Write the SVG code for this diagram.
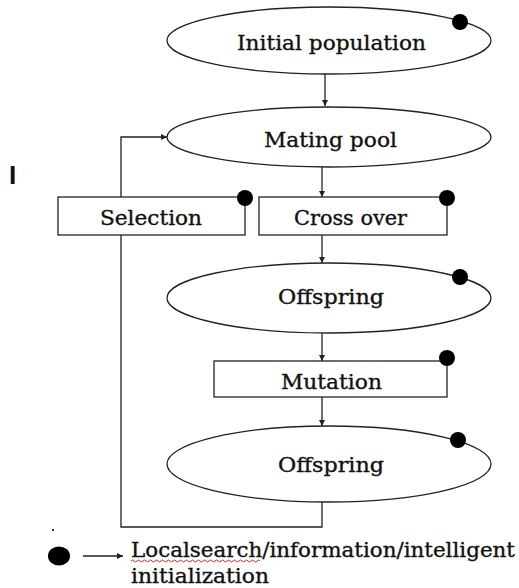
<svg xmlns="http://www.w3.org/2000/svg" width="519" height="588" viewBox="0 0 519 588">
<style>
.shape{fill:#fff;stroke:#222;stroke-width:1.3}
.dot{fill:#000}
.lbl{font-family:"DejaVu Serif","Liberation Serif",serif;font-size:20px;fill:#111;stroke:#111;stroke-width:0.35}
.conn{fill:none;stroke:#222;stroke-width:1.3}
</style>
<defs>
<marker id="ah" viewBox="0 0 10 10" refX="10" refY="5" markerWidth="6" markerHeight="6" orient="auto" markerUnits="userSpaceOnUse">
<path d="M0,0 L10,5 L0,10 z" fill="#222"/>
</marker>
</defs>
<rect width="519" height="588" fill="#fff"/>
<g id="connectors">
<line class="conn" x1="325" y1="74" x2="325" y2="106" marker-end="url(#ah)"/>
<line class="conn" x1="322" y1="167" x2="322" y2="197" marker-end="url(#ah)"/>
<line class="conn" x1="322" y1="235" x2="322" y2="263" marker-end="url(#ah)"/>
<line class="conn" x1="322" y1="333" x2="322" y2="361" marker-end="url(#ah)"/>
<line class="conn" x1="322" y1="397" x2="322" y2="426" marker-end="url(#ah)"/>
<polyline class="conn" points="121,197 121,137 167,137" marker-end="url(#ah)"/>
<polyline class="conn" points="322,502 322,527 121,527 121,235"/>
</g>
<g id="initial-population">
<ellipse class="shape" cx="329" cy="40.5" rx="162" ry="33.5"/>
<text class="lbl" x="237" y="50" textLength="189" lengthAdjust="spacingAndGlyphs">Initial population</text>
<circle class="dot" cx="460" cy="22" r="8"/>
</g>
<g id="mating-pool">
<ellipse class="shape" cx="329" cy="137" rx="162" ry="30"/>
<text class="lbl" x="264" y="147" textLength="133" lengthAdjust="spacingAndGlyphs">Mating pool</text>
</g>
<g id="selection">
<rect class="shape" x="58" y="197" width="187" height="38"/>
<text class="lbl" x="100" y="225" textLength="102" lengthAdjust="spacingAndGlyphs">Selection</text>
<circle class="dot" cx="245" cy="198" r="8"/>
</g>
<g id="cross-over">
<rect class="shape" x="259" y="197" width="188" height="38"/>
<text class="lbl" x="294" y="225" textLength="113" lengthAdjust="spacingAndGlyphs">Cross over</text>
<circle class="dot" cx="447" cy="198" r="8"/>
</g>
<g id="offspring-1">
<ellipse class="shape" cx="329" cy="298" rx="162" ry="35"/>
<text class="lbl" x="278" y="304" textLength="106" lengthAdjust="spacingAndGlyphs">Offspring</text>
<circle class="dot" cx="460" cy="277" r="8"/>
</g>
<g id="mutation">
<rect class="shape" x="214" y="361" width="233" height="36"/>
<text class="lbl" x="281" y="389" textLength="101" lengthAdjust="spacingAndGlyphs">Mutation</text>
<circle class="dot" cx="447" cy="358" r="8"/>
</g>
<g id="offspring-2">
<ellipse class="shape" cx="329" cy="464" rx="162" ry="38"/>
<text class="lbl" x="278" y="472" textLength="106" lengthAdjust="spacingAndGlyphs">Offspring</text>
<circle class="dot" cx="458" cy="440" r="8"/>
</g>
<g id="stray">
<text x="9" y="184" font-family="Liberation Sans, sans-serif" font-weight="bold" font-size="26" fill="#111">I</text>
<rect x="52" y="529" width="2" height="2" fill="#333"/>
</g>
<g id="legend">
<ellipse class="dot" cx="59" cy="556" rx="11" ry="9.5"/>
<line class="conn" x1="83" y1="556" x2="123" y2="556" marker-end="url(#ah)"/>
<text class="lbl" x="131" y="557" textLength="384" lengthAdjust="spacingAndGlyphs">Localsearch/information/intelligent</text>
<text class="lbl" x="131" y="583" textLength="138" lengthAdjust="spacingAndGlyphs">initialization</text>
<path d="M131,561 q1.5,-2 3,0 t3,0 t3,0 t3,0 t3,0 t3,0 t3,0 t3,0 t3,0 t3,0 t3,0 t3,0 t3,0 t3,0 t3,0 t3,0 t3,0 t3,0 t3,0 t3,0 t3,0 t3,0 t3,0 t3,0 t3,0 t3,0 t3,0 t3,0 t3,0 t3,0 t3,0 t3,0 t3,0 t3,0 t3,0 t3,0 t3,0 t3,0 t3,0 t3,0 t3,0 t3,0 t3,0" fill="none" stroke="#e02020" stroke-width="1"/>
</g>
</svg>
